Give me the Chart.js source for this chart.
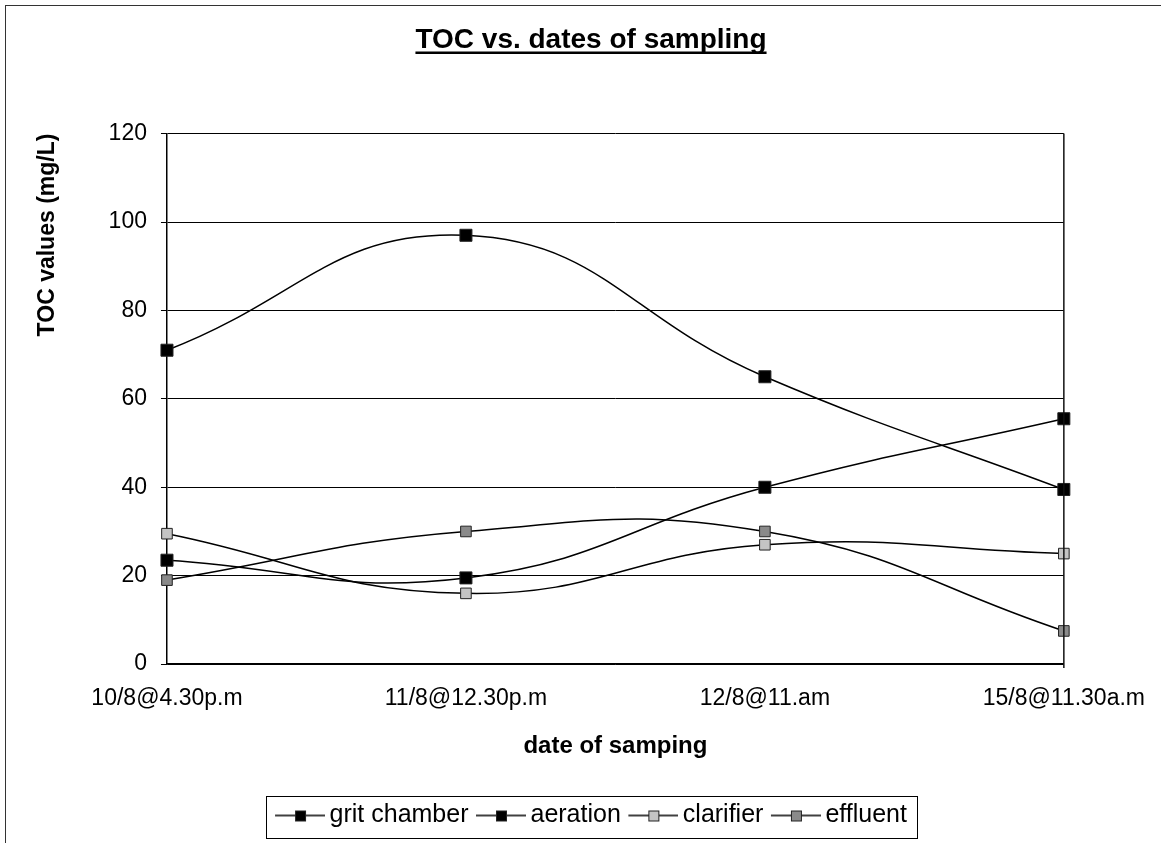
<!DOCTYPE html>
<html>
<head>
<meta charset="utf-8">
<script src="https://cdn.jsdelivr.net/npm/chart.js@4.4.0/dist/chart.umd.min.js"></script>
<style>
    html, body { margin: 0; padding: 0; background: #fff; overflow: hidden; }
    #wrap { position: absolute; left: 5px; top: 5px; width: 1155px; height: 838px; border-left: 1px solid #333; border-top: 1px solid #333; }
    canvas { display: block; }
</style>
</head>
<body>
<div id="wrap"><canvas id="tocChart" width="1154" height="837"></canvas></div>
<script>
// Données
const dates = ['10/8@4.30p.m', '11/8@12.30p.m', '12/8@11.am', '15/8@11.30a.m'];
const gritChamber = [71, 97, 65, 39.5];
const aeration = [23.5, 19.5, 40, 55.5];
const clarifier = [29.5, 16, 27, 25];
const effluent = [19, 30, 30, 7.5];
const yTicks = [0, 20, 40, 60, 80, 100, 120];

const FONT = 'Arial, "Liberation Sans", sans-serif';

// Icône de légende : trait + carré (décalée pour coller au texte)
function legendIcon(fill) {
    const c = document.createElement('canvas');
    c.width = 58; c.height = 16;
    const g = c.getContext('2d');
    g.strokeStyle = '#000';
    g.lineWidth = 1.5;
    g.beginPath(); g.moveTo(8, 8); g.lineTo(58, 8); g.stroke();
    g.fillStyle = fill;
    g.fillRect(28, 3, 11, 11);
    g.strokeStyle = '#222';
    g.lineWidth = 1;
    g.strokeRect(28.5, 3.5, 10, 10);
    return c;
}

// Souligner le titre, bordure droite du tracé, cadre de la légende
const decorPlugin = {
    id: 'decor',
    afterDraw(chart) {
        const ctx = chart.ctx;
        const t = chart.titleBlock;
        const to = t.options;
        ctx.save();
        ctx.font = 'bold ' + to.font.size + 'px ' + FONT;
        const w = ctx.measureText(to.text).width;
        const cx = (t.left + t.right) / 2;
        const cy = t.top + to.padding.top + to.font.size * 1.2 / 2;
        ctx.strokeStyle = '#000';
        ctx.lineWidth = 2.5;
        ctx.beginPath();
        ctx.moveTo(cx - w / 2, cy + 13);
        ctx.lineTo(cx + w / 2, cy + 13);
        ctx.stroke();

        const a = chart.chartArea;
        ctx.lineWidth = 1.5;
        ctx.strokeStyle = '#111';
        ctx.beginPath();
        ctx.moveTo(a.right, a.top);
        ctx.lineTo(a.right, a.bottom + 4);
        ctx.stroke();

        const l = chart.legend;
        const boxes = l.legendHitBoxes;
        const x0 = Math.min(...boxes.map(b => b.left)) - 9;
        const x1 = Math.max(...boxes.map(b => b.left + b.width)) + 10;
        ctx.lineWidth = 1;
        ctx.strokeStyle = '#000';
        ctx.strokeRect(Math.round(x0) + 0.5, Math.round(l.top) + 0.5, Math.round(x1 - x0), Math.round(l.height) - 1);
        ctx.restore();
    }
};

function makeSet(label, data, fill, r) {
    return {
        label: label,
        data: data,
        borderColor: '#000',
        borderWidth: 1.5,
        backgroundColor: fill,
        pointBackgroundColor: fill,
        pointBorderColor: '#222',
        pointBorderWidth: 1,
        pointStyle: 'rect',
        pointRadius: r,
        tension: 0.45,
        fill: false
    };
}

const ctx = document.getElementById('tocChart').getContext('2d');
new Chart(ctx, {
    type: 'line',
    data: {
        labels: dates,
        datasets: [
            makeSet('grit chamber', gritChamber, '#000', 8.5),
            makeSet('aeration', aeration, '#000', 8.5),
            makeSet('clarifier', clarifier, '#c4c4c4', 7.5),
            makeSet('effluent', effluent, '#8a8a8a', 7.5)
        ]
    },
    options: {
        responsive: false,
        animation: false,
        layout: { padding: { left: 16, right: 0, top: 0, bottom: 5 } },
        plugins: {
            title: {
                display: true,
                text: 'TOC vs. dates of sampling',
                color: '#000',
                font: { family: FONT, size: 28, weight: 'bold' },
                padding: { top: 17, bottom: 77 }
            },
            legend: {
                position: 'bottom',
                labels: {
                    color: '#000',
                    font: { family: FONT, size: 25 },
                    usePointStyle: true,
                    pointStyleWidth: 42,
                    boxHeight: 16,
                    padding: 7.5,
                    generateLabels(chart) {
                        return chart.data.datasets.map((ds, i) => ({
                            text: ds.label,
                            pointStyle: legendIcon(ds.backgroundColor),
                            fillStyle: ds.backgroundColor,
                            strokeStyle: '#000',
                            lineWidth: 0,
                            fontColor: '#000',
                            datasetIndex: i,
                            hidden: false
                        }));
                    }
                }
            },
            tooltip: { enabled: false }
        },
        scales: {
            x: {
                offset: false,
                grid: { display: false, drawTicks: true, tickLength: 6, color: '#000' },
                border: { color: '#000', width: 1.5 },
                ticks: {
                    color: '#000',
                    font: { family: FONT, size: 23 },
                    maxRotation: 0,
                    autoSkip: false,
                    padding: 15
                },
                title: {
                    display: true,
                    text: 'date of samping',
                    color: '#000',
                    font: { family: FONT, size: 24, weight: 'bold' },
                    padding: { top: 4, bottom: 35 }
                }
            },
            y: {
                min: 0,
                max: 120,
                afterBuildTicks(axis) {
                    axis.ticks = yTicks.map(v => ({ value: v }));
                },
                grid: { color: '#000', lineWidth: 1, tickLength: 6 },
                border: { color: '#000', width: 1.5 },
                ticks: {
                    color: '#000',
                    font: { family: FONT, size: 23 },
                    padding: 14
                },
                title: {
                    display: true,
                    text: 'TOC values (mg/L)',
                    align: 'end',
                    color: '#000',
                    font: { family: FONT, size: 23, weight: 'bold' },
                    padding: { top: 12, bottom: 33 }
                }
            },
            // axe invisible qui réserve la marge de droite
            yRight: {
                position: 'right',
                display: true,
                grid: { display: false, drawTicks: false },
                border: { display: false },
                ticks: { display: false },
                afterFit(axis) { axis.width = 96; }
            }
        }
    },
    plugins: [decorPlugin]
});
</script>
</body>
</html>
